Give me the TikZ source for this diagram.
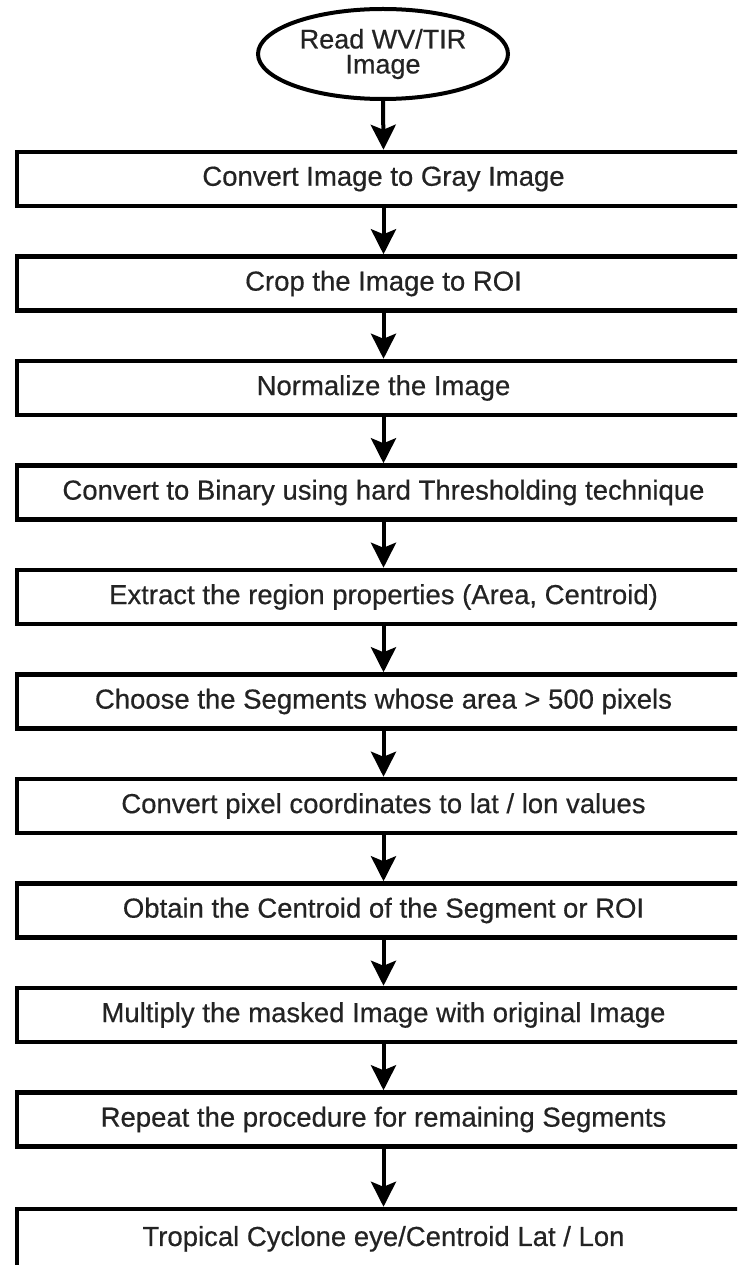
\documentclass[tikz,border=0pt]{standalone}
\usepackage{fontspec}
\setmainfont{Liberation Sans}
\newfontfamily\boxfont{Liberation Sans}[RawFeature={embolden=0.5}]
\usetikzlibrary{arrows.meta,shapes.geometric}
\definecolor{txt}{RGB}{35,35,35}
\begin{document}
\begin{tikzpicture}[x=1pt,y=-1pt,
  stepbox/.style={draw=black,line width=4.5pt,minimum width=733pt,minimum height=54pt,inner sep=0pt,font=\boxfont\fontsize{27.5}{30}\selectfont,text=txt},
  startnode/.style={ellipse,draw=black,line width=4pt,minimum width=250pt,minimum height=90pt,inner sep=0pt,align=center,font=\boxfont\fontsize{27}{25}\selectfont,text=txt},
  flow/.style={draw=black,line width=4pt,-{Stealth[length=25pt,width=25pt,inset=5pt]}}]
\useasboundingbox (0,0) rectangle (737,1265);
\clip (0,0) rectangle (737,1265);
\node[startnode] (s) at (383,54) {Read WV/TIR\\Image};
\node[stepbox] (b1) at (383.5,179) {Convert Image to Gray Image};
\node[stepbox] (b2) at (383.5,283.5) {Crop the Image to ROI};
\node[stepbox] (b3) at (383.5,388) {Normalize the Image};
\node[stepbox] (b4) at (383.5,492.5) {Convert to Binary using hard Thresholding technique};
\node[stepbox] (b5) at (383.5,597) {Extract the region properties (Area, Centroid)};
\node[stepbox] (b6) at (383.5,701.5) {Choose the Segments whose area > 500 pixels};
\node[stepbox] (b7) at (383.5,806) {Convert pixel coordinates to lat / lon values};
\node[stepbox] (b8) at (383.5,910.5) {Obtain the Centroid of the Segment or ROI};
\node[stepbox] (b9) at (383.5,1015) {Multiply the masked Image with original Image};
\node[stepbox] (b10) at (383.5,1119.5) {Repeat the procedure for remaining Segments};
\node[stepbox,minimum height=90pt,text depth=36pt] (b11) at (383.5,1254) {Tropical Cyclone eye/Centroid Lat / Lon};
\draw[flow] (s.south) -- (b1.north);
\draw[flow] (b1.south) -- (b2.north);
\draw[flow] (b2.south) -- (b3.north);
\draw[flow] (b3.south) -- (b4.north);
\draw[flow] (b4.south) -- (b5.north);
\draw[flow] (b5.south) -- (b6.north);
\draw[flow] (b6.south) -- (b7.north);
\draw[flow] (b7.south) -- (b8.north);
\draw[flow] (b8.south) -- (b9.north);
\draw[flow] (b9.south) -- (b10.north);
\draw[flow] (b10.south) -- (b11.north);
\end{tikzpicture}
\end{document}
